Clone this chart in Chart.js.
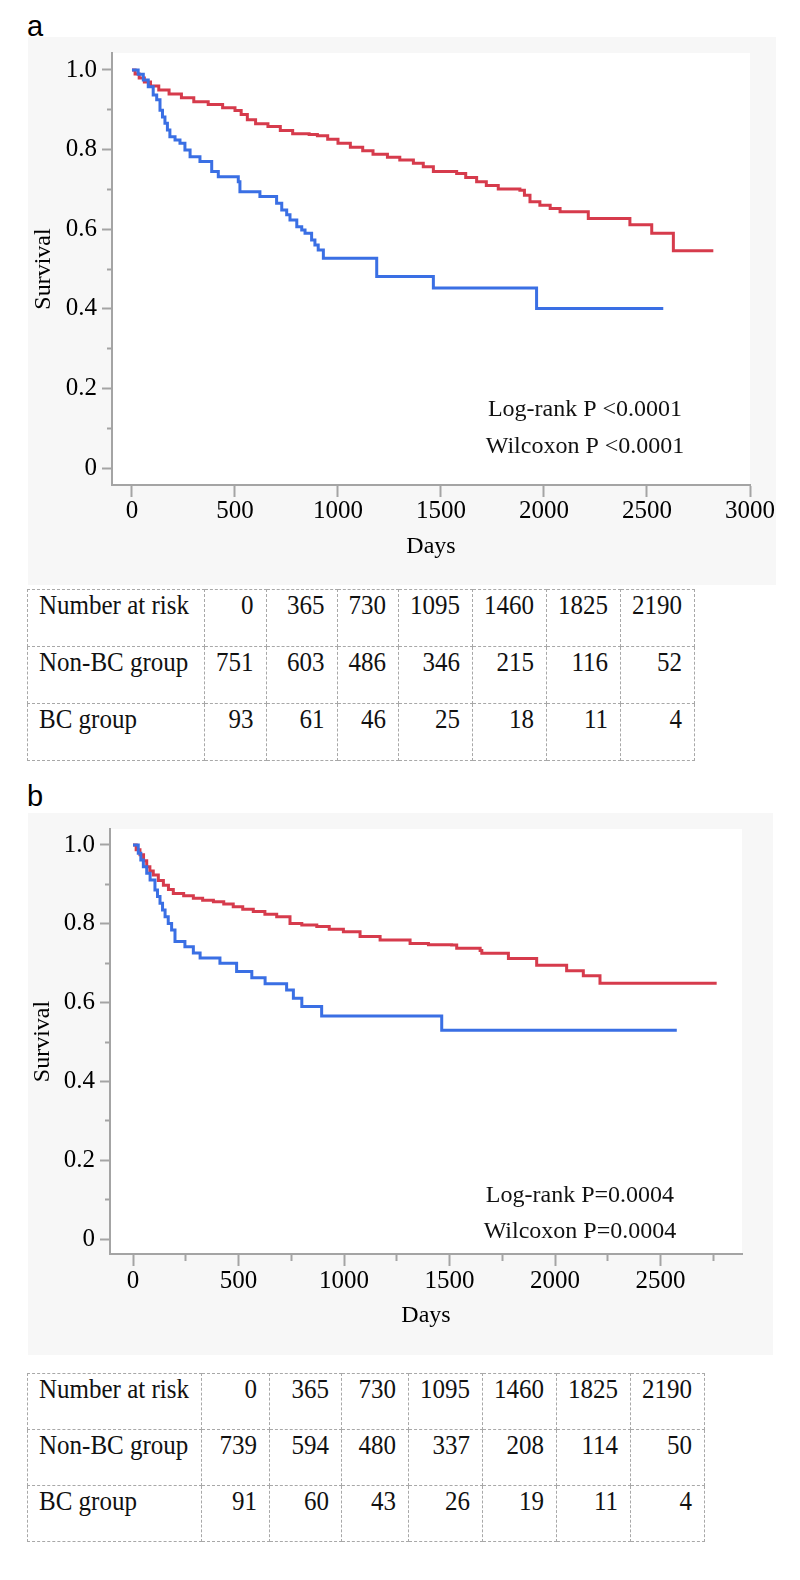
<!DOCTYPE html>
<html>
<head>
<meta charset="utf-8">
<script src="https://cdn.jsdelivr.net/npm/chart.js@4.4.1/dist/chart.umd.min.js"></script>
<style>
  html, body { margin: 0; padding: 0; background: #fff; }
  body { width: 800px; height: 1580px; position: relative; overflow: hidden; }
  .tag { position: absolute; font-family: "Liberation Sans", Arial, sans-serif; font-size: 29px; line-height: 29px; color: #000; }
  canvas { position: absolute; background: #f7f7f7; }
  table.risk { position: absolute; border-collapse: collapse; table-layout: fixed; font-family: "Liberation Serif", serif; font-size: 25px; color: #111; }
  table.risk td { border: 1px dashed #a8a8a8; padding: 0 12px 0 11px; vertical-align: top; text-align: right; line-height: 1.15; white-space: nowrap; box-sizing: border-box; }
  table.risk td:first-child { text-align: left; }
  table.risk td span { display: inline-block; transform: scaleY(1.08); transform-origin: 50% 0; }
</style>
</head>
<body>
<div class="tag" style="left:27px; top:12px;">a</div>
<canvas id="kmA" width="748" height="548" style="left:28px; top:37px;"></canvas>
<table class="risk" id="riskA" style="left:27px; top:589px;"></table>

<div class="tag" style="left:27px; top:782px;">b</div>
<canvas id="kmB" width="745" height="542" style="left:28px; top:813px;"></canvas>
<table class="risk" id="riskB" style="left:27px; top:1373px;"></table>

<script>
/* axis ticks */
const survMajor = [0, 0.2, 0.4, 0.6, 0.8, 1.0];
const survMinor = [0.1, 0.3, 0.5, 0.7, 0.9];
const daysMajorA = [0, 500, 1000, 1500, 2000, 2500, 3000];
const daysMajorB = [0, 500, 1000, 1500, 2000, 2500];
const daysMinorB = [250, 750, 1250, 1750, 2250, 2750];

/* Kaplan-Meier steps, [day, survival] */
const nonBC_a = [[0,1.0],[15,0.99],[35,0.98],[60,0.97],[90,0.96],[130,0.95],[180,0.94],[240,0.93],[300,0.92],[370,0.913],[440,0.905],[500,0.898],[530,0.888],[560,0.875],[600,0.865],[660,0.858],[720,0.848],[780,0.84],[860,0.838],[900,0.835],[950,0.826],[1000,0.816],[1060,0.806],[1120,0.797],[1170,0.788],[1240,0.781],[1300,0.774],[1366,0.766],[1414,0.757],[1463,0.745],[1576,0.740],[1620,0.73],[1673,0.719],[1720,0.71],[1778,0.701],[1883,0.698],[1905,0.685],[1932,0.669],[1980,0.66],[2030,0.652],[2078,0.644],[2215,0.627],[2417,0.611],[2523,0.590],[2628,0.546],[2822,0.546]];
const bc_a = [[0,1.0],[30,0.989],[55,0.975],[79,0.958],[103,0.937],[120,0.925],[136,0.899],[148,0.882],[160,0.866],[172,0.849],[184,0.832],[209,0.824],[233,0.816],[257,0.799],[282,0.782],[330,0.770],[387,0.745],[419,0.732],[516,0.719],[524,0.694],[621,0.682],[702,0.665],[727,0.648],[751,0.636],[767,0.623],[800,0.606],[824,0.598],[840,0.590],[872,0.573],[888,0.560],[904,0.548],[929,0.527],[1188,0.481],[1463,0.452],[1964,0.401],[2579,0.401]];
const nonBC_b = [[0,1.0],[15,0.988],[33,0.975],[50,0.96],[65,0.945],[80,0.934],[96,0.924],[120,0.91],[144,0.898],[168,0.887],[191,0.877],[240,0.871],[286,0.865],[330,0.86],[381,0.856],[430,0.85],[475,0.843],[520,0.837],[570,0.831],[625,0.824],[681,0.818],[744,0.801],[800,0.797],[871,0.793],[930,0.786],[997,0.780],[1076,0.768],[1171,0.759],[1313,0.750],[1400,0.747],[1510,0.746],[1534,0.738],[1645,0.732],[1653,0.725],[1779,0.712],[1913,0.695],[2055,0.681],[2134,0.668],[2213,0.649],[2766,0.649]];
const bc_b = [[0,1.0],[25,0.979],[37,0.962],[49,0.945],[65,0.928],[81,0.911],[104,0.886],[116,0.869],[128,0.852],[140,0.835],[152,0.818],[167,0.801],[183,0.784],[199,0.755],[246,0.742],[286,0.726],[318,0.713],[412,0.700],[491,0.679],[563,0.663],[626,0.648],[728,0.632],[760,0.611],[800,0.590],[894,0.566],[1463,0.530],[2577,0.530]];

/* p-value notes, placed in data units */
const notesA = [{ text: "Log-rank P <0.0001", x: 2199, y: 0.146 }, { text: "Wilcoxon P <0.0001", x: 2199, y: 0.053 }];
const notesB = [{ text: "Log-rank P=0.0004", x: 2118, y: 0.109 }, { text: "Wilcoxon P=0.0004", x: 2118, y: 0.018 }];

/* number at risk */
const riskDays = [0, 365, 730, 1095, 1460, 1825, 2190];
const riskGroups = ["Non-BC group", "BC group"];
const riskA = [[751, 603, 486, 346, 215, 116, 52], [93, 61, 46, 25, 18, 11, 4]];
const riskB = [[739, 594, 480, 337, 208, 114, 50], [91, 60, 43, 26, 19, 11, 4]];

const RED = "#d63b4c";
const BLUE = "#3a6fe4";
const GREY = "#a4a4a4";
const SERIF = "Liberation Serif";

const plotBg = {
    id: "plotBg",
    beforeDraw(chart) {
        const { ctx, chartArea: a } = chart;
        ctx.save();
        ctx.fillStyle = "#fff";
        ctx.fillRect(a.left, a.top, a.right - a.left, a.bottom - a.top);
        ctx.restore();
    }
};

const pNotes = {
    id: "pNotes",
    afterDatasetsDraw(chart, args, opts) {
        const { ctx, scales: { x, y } } = chart;
        ctx.save();
        ctx.font = "24px '" + SERIF + "'";
        ctx.fillStyle = "#111";
        ctx.textAlign = "center";
        ctx.textBaseline = "middle";
        opts.lines.forEach(l => ctx.fillText(l.text, x.getPixelForValue(l.x), y.getPixelForValue(l.y)));
        ctx.restore();
    }
};

const setTicks = list => s => { s.ticks = list.map(v => ({ value: v })); };

function kmChart(id, c) {
    const scales = {
        x: {
            type: "linear", position: "bottom", weight: 1, min: c.xMin, max: c.xMax,
            afterBuildTicks: setTicks(c.xMajor),
            afterFit: s => { s.height = c.xHeight; s.paddingLeft = 0; s.paddingRight = 0; },
            grid: { drawOnChartArea: false, tickLength: 12, tickColor: GREY, tickWidth: 2 },
            border: { display: true, color: GREY, width: 2 },
            ticks: { autoSkip: false, maxRotation: 0, padding: c.xPad, color: "#000",
                     font: { family: SERIF, size: 25, lineHeight: 1 }, callback: v => String(v) },
            title: { display: true, text: "Days", color: "#000", font: { family: SERIF, size: 24 },
                     padding: { top: 0, bottom: c.titlePad } }
        },
        y: {
            type: "linear", position: "left", weight: 1, min: c.yMin, max: c.yMax,
            afterBuildTicks: setTicks(survMajor),
            afterFit: s => { s.width = c.yWidth; s.paddingTop = 0; s.paddingBottom = 0; },
            grid: { drawOnChartArea: false, tickLength: 10, tickColor: GREY, tickWidth: 2 },
            border: { display: true, color: GREY, width: 2 },
            ticks: { autoSkip: false, padding: 5, color: "#000",
                     font: { family: SERIF, size: 25, lineHeight: 1 },
                     callback: v => v === 0 ? "0" : v.toFixed(1) },
            title: { display: true, text: "Survival", color: "#000", font: { family: SERIF, size: 24 },
                     padding: { top: c.yTitlePad, bottom: 0 } }
        },
        y2: {
            type: "linear", axis: "y", position: "left", weight: 0, min: c.yMin, max: c.yMax,
            afterBuildTicks: setTicks(survMinor),
            afterFit: s => { s.width = 0; s.paddingTop = 0; s.paddingBottom = 0; },
            grid: { drawOnChartArea: false, tickLength: 5, tickColor: GREY, tickWidth: 2 },
            border: { display: false },
            ticks: { display: false }
        }
    };
    if (c.xMinor) {
        scales.x2 = {
            type: "linear", axis: "x", position: "bottom", weight: 0, min: c.xMin, max: c.xMax,
            afterBuildTicks: setTicks(c.xMinor),
            afterFit: s => { s.height = 0; s.paddingLeft = 0; s.paddingRight = 0; },
            grid: { drawOnChartArea: false, tickLength: 7, tickColor: GREY, tickWidth: 2 },
            border: { display: false },
            ticks: { display: false }
        };
    }
    return new Chart(document.getElementById(id), {
        type: "line",
        data: {
            datasets: [
                { label: "BC group", data: c.bc.map(([x, y]) => ({ x, y })), borderColor: BLUE },
                { label: "Non-BC group", data: c.nonBC.map(([x, y]) => ({ x, y })), borderColor: RED }
            ]
        },
        options: {
            responsive: false,
            animation: false,
            events: [],
            layout: { padding: { top: 16, right: c.padRight, left: 0, bottom: 0 } },
            elements: {
                point: { radius: 0 },
                line: { borderWidth: 3, stepped: true, tension: 0, fill: false, borderCapStyle: "butt", borderJoinStyle: "miter" }
            },
            plugins: { legend: { display: false }, tooltip: { enabled: false }, pNotes: { lines: c.notes } },
            scales: scales
        },
        plugins: [plotBg, pNotes]
    });
}

/* panel a */
kmChart("kmA", {
    nonBC: nonBC_a, bc: bc_a, notes: notesA,
    xMin: -97, xMax: 3000, xMajor: daysMajorA,
    yMin: -0.0427, yMax: 1.0427,
    yWidth: 84, xHeight: 100, padRight: 26, xPad: 2, titlePad: 24, yTitlePad: 1
});

/* panel b */
kmChart("kmB", {
    nonBC: nonBC_b, bc: bc_b, notes: notesB,
    xMin: -109, xMax: 2886, xMajor: daysMajorB, xMinor: daysMinorB,
    yMin: -0.038, yMax: 1.0406,
    yWidth: 82, xHeight: 101, padRight: 31, xPad: 3, titlePad: 25, yTitlePad: 0
});

/* number-at-risk tables */
function riskTable(id, counts, widths, rowH) {
    const t = document.getElementById(id);
    const rows = [["Number at risk"].concat(riskDays)].concat(riskGroups.map((g, i) => [g].concat(counts[i])));
    rows.forEach(r => {
        const tr = t.insertRow();
        r.forEach((v, j) => {
            const td = tr.insertCell();
            const sp = document.createElement("span");
            sp.textContent = v;
            td.appendChild(sp);
            td.style.width = widths[j] + "px";
            td.style.height = rowH + "px";
        });
    });
}
riskTable("riskA", riskA, [177, 58, 71, 59, 71, 74, 74, 73], 57);
riskTable("riskB", riskB, [171, 68, 72, 67, 74, 67, 72, 68], 56);
</script>
</body>
</html>
